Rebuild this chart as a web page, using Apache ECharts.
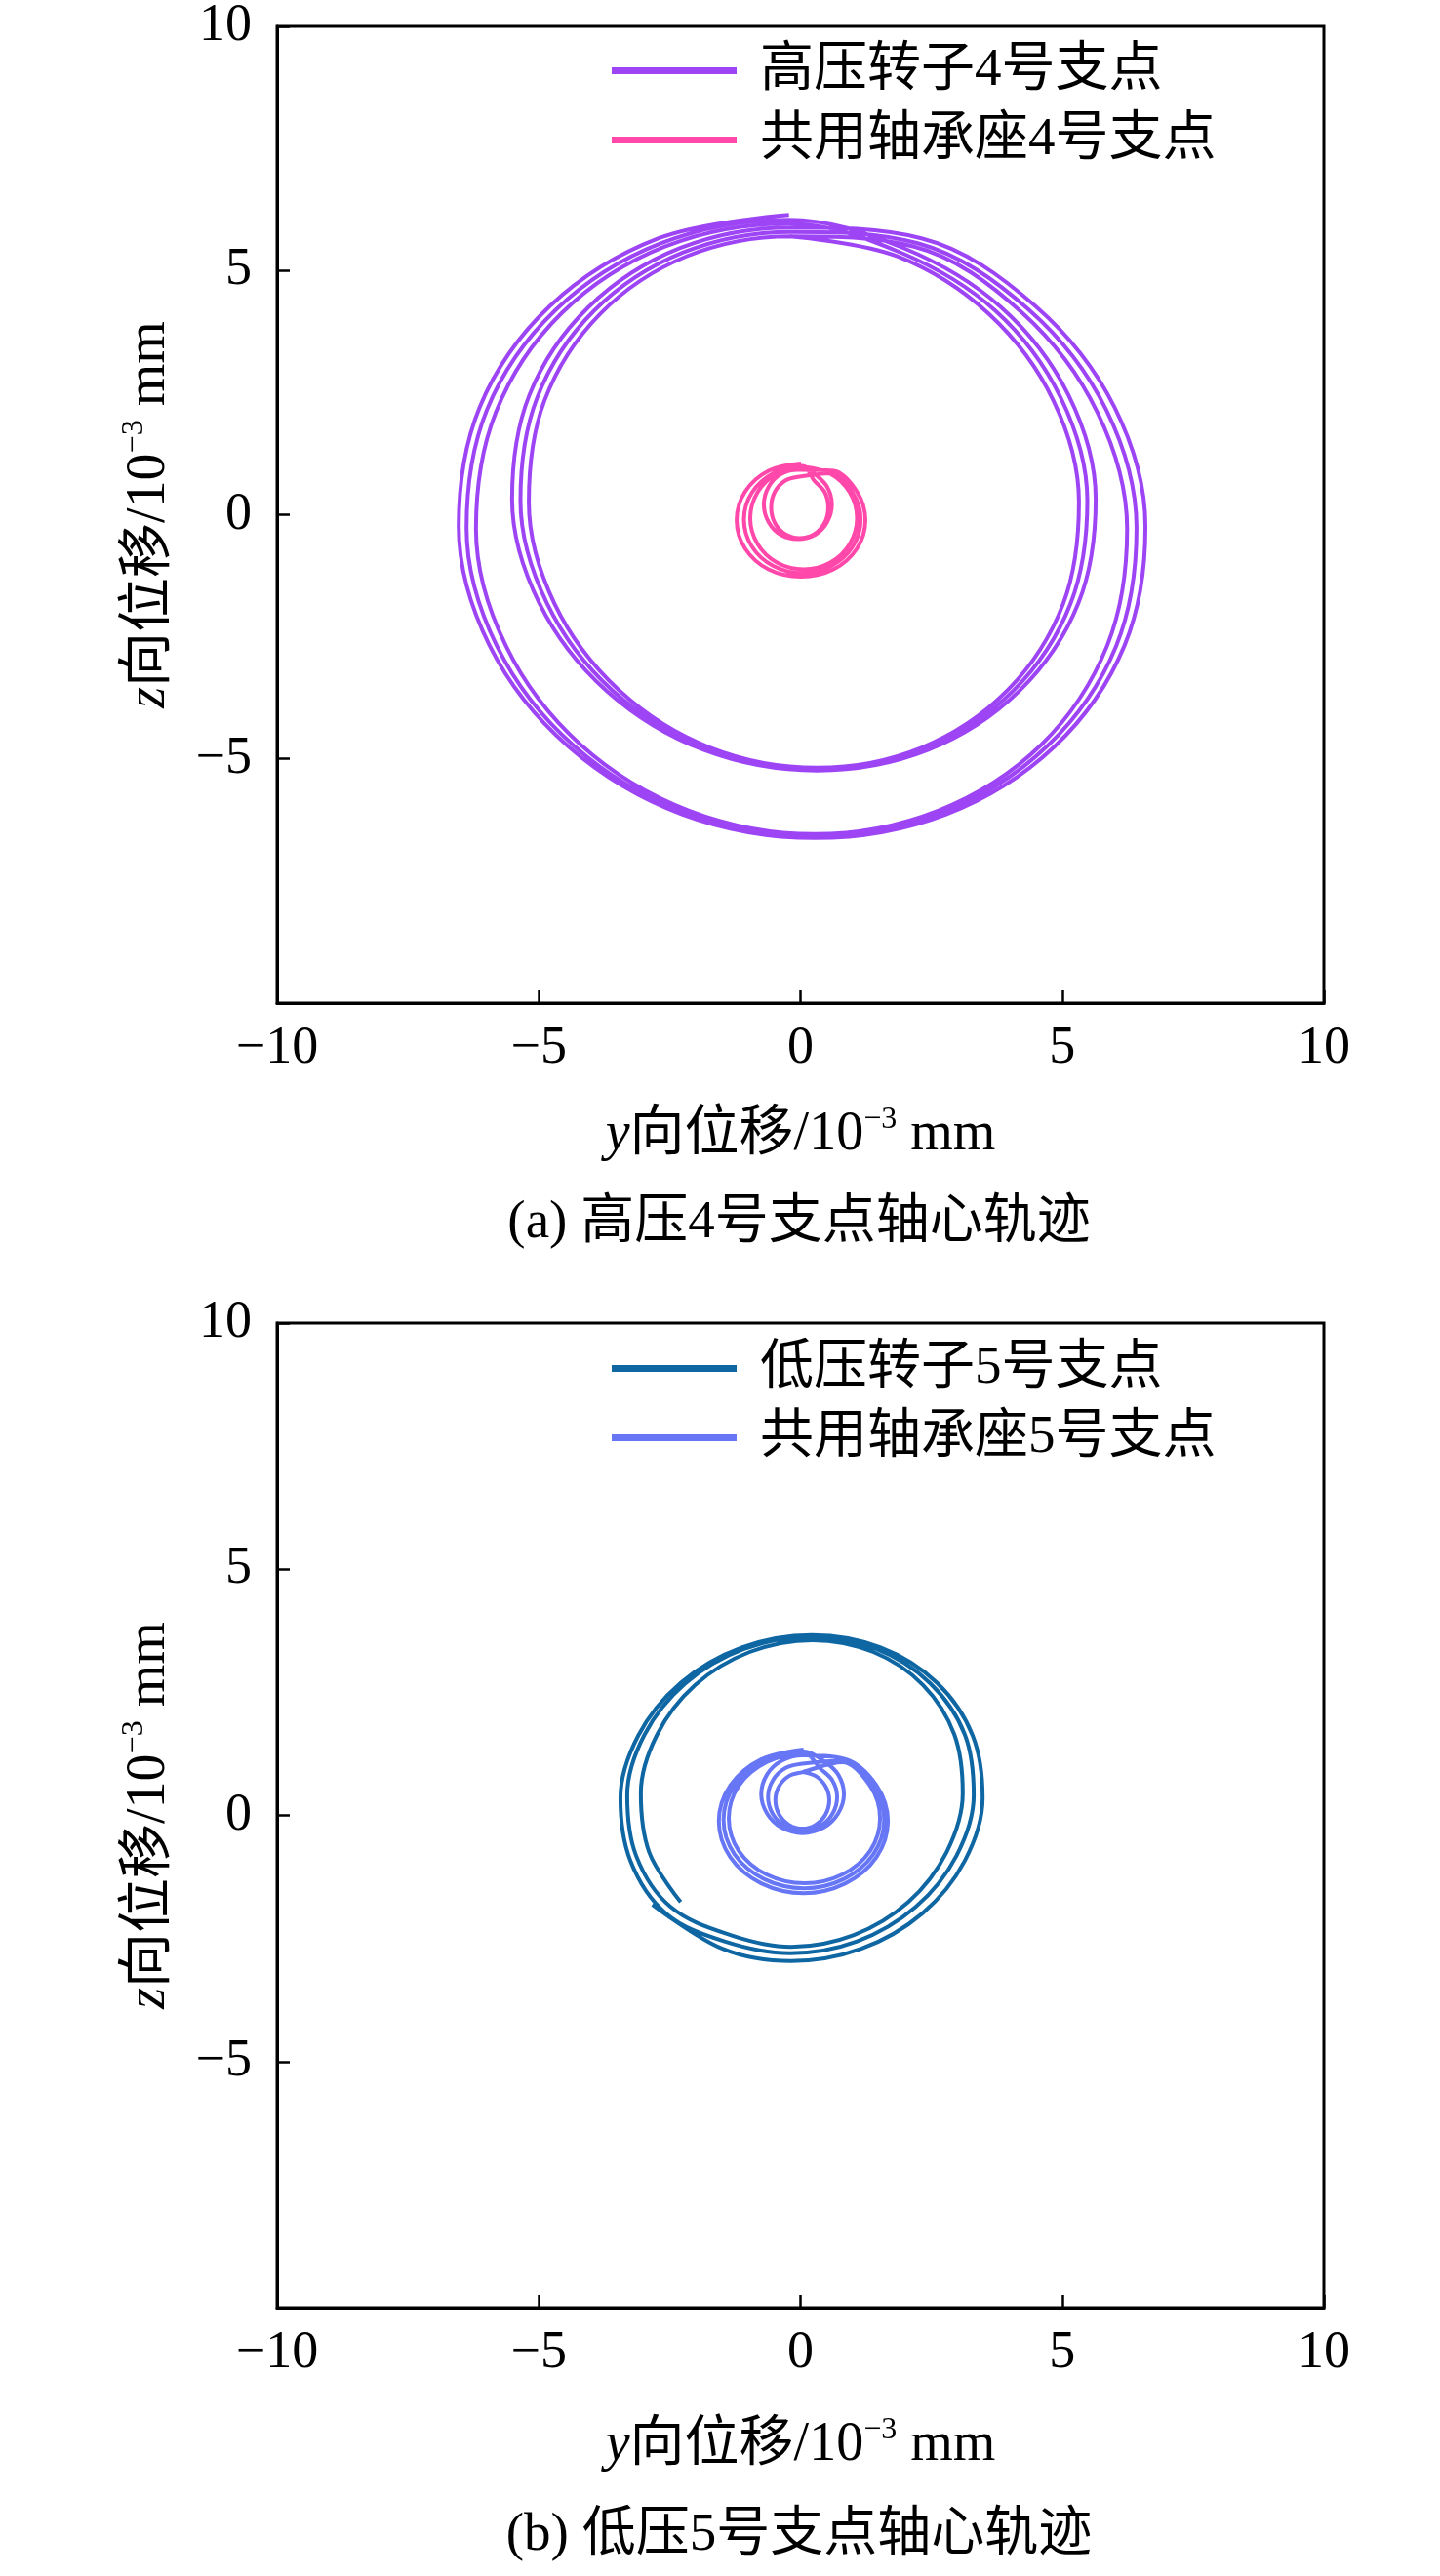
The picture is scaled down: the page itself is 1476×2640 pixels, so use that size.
<!DOCTYPE html>
<html>
<head>
<meta charset="utf-8">
<script src="https://cdn.jsdelivr.net/npm/echarts@6/dist/echarts.min.js"></script>
<style>
  html, body { margin: 0; padding: 0; background: #fff; }
  #main { width: 1476px; height: 2640px; }
</style>
</head>
<body>
<div id="main"></div>
<script>
// axis ticks / labels
const axisTicks = [-10, -5, 0, 5, 10];
const yHiddenLabels = [-10];

// (a) 高压转子4号支点, [y, z] in 10^-3 mm
const hpRotor4 = [
  [-0.22, 6.14], [-2.71, 5.66], [-4.79, 4.27], [-6.13, 2.20], [-6.53, -0.24], [-5.94, -2.68], [-4.43, -4.75], [-2.25, -6.14],
  [0.28, -6.62], [2.77, -6.14], [4.85, -4.75], [6.19, -2.68], [6.59, -0.24], [6.00, 2.20], [4.49, 4.27], [2.31, 5.66],
  [-0.19, 5.88], [-2.30, 5.46], [-4.05, 4.25], [-5.18, 2.45], [-5.51, 0.32], [-4.99, -1.81], [-3.70, -3.61], [-1.84, -4.82],
  [0.32, -5.24], [2.43, -4.82], [4.18, -3.61], [5.31, -1.81], [5.64, 0.32], [5.12, 2.45], [3.83, 4.25], [1.97, 5.46],
  [-0.23, 6.04], [-2.66, 5.56], [-4.68, 4.19], [-5.99, 2.15], [-6.38, -0.27], [-5.80, -2.69], [-4.33, -4.73], [-2.20, -6.10],
  [0.27, -6.58], [2.70, -6.10], [4.72, -4.73], [6.03, -2.69], [6.42, -0.27], [5.84, 2.15], [4.37, 4.19], [2.24, 5.56],
  [-0.19, 5.79], [-2.24, 5.37], [-3.94, 4.18], [-5.03, 2.40], [-5.35, 0.29], [-4.84, -1.82], [-3.59, -3.60], [-1.78, -4.79],
  [0.32, -5.21], [2.37, -4.79], [4.07, -3.60], [5.16, -1.82], [5.48, 0.29], [4.97, 2.40], [3.72, 4.18], [1.91, 5.37],
  [-0.23, 5.96], [-2.59, 5.49], [-4.56, 4.13], [-5.82, 2.10], [-6.20, -0.29], [-5.63, -2.68], [-4.20, -4.71], [-2.13, -6.06],
  [0.27, -6.54], [2.63, -6.06], [4.60, -4.71], [5.86, -2.68], [6.24, -0.29], [5.67, 2.10], [4.24, 4.13], [2.17, 5.49],
  [-0.19, 5.70], [-2.18, 5.29], [-3.83, 4.11], [-4.89, 2.34], [-5.19, 0.26], [-4.70, -1.82], [-3.47, -3.59], [-1.72, -4.77],
  [0.32, -5.18], [2.31, -4.77], [3.96, -3.59], [5.02, -1.82], [5.32, 0.26], [4.83, 2.34], [3.60, 4.11], [1.85, 5.29],
  [-0.19, 5.70]
];

// (a) 共用轴承座4号支点
const casing4 = [
  [0.01, 1.05], [-0.61, 0.90], [-1.06, 0.47], [-1.22, -0.11], [-1.06, -0.69], [-0.61, -1.12],
  [0.01, -1.27], [0.63, -1.12], [1.08, -0.69], [1.24, -0.11], [1.08, 0.47], [0.63, 0.90],
  [-0.05, 0.92], [-0.38, 0.83], [-0.61, 0.57], [-0.70, 0.21], [-0.61, -0.15], [-0.38, -0.41],
  [-0.05, -0.50], [0.28, -0.41], [0.51, -0.15], [0.60, 0.21], [0.51, 0.57], [0.28, 0.83],
  [0.04, 1.00], [-0.52, 0.85], [-0.93, 0.45], [-1.08, -0.10], [-0.93, -0.65], [-0.52, -1.05],
  [0.04, -1.20], [0.59, -1.05], [1.00, -0.65], [1.15, -0.10], [1.00, 0.45], [0.59, 0.85],
  [-0.02, 0.78], [-0.29, 0.70], [-0.49, 0.47], [-0.56, 0.15], [-0.49, -0.17], [-0.29, -0.40],
  [-0.02, -0.48], [0.26, -0.40], [0.46, -0.17], [0.53, 0.15], [0.46, 0.47], [0.26, 0.70],
  [0.06, 0.98], [-0.45, 0.84], [-0.82, 0.46], [-0.96, -0.07], [-0.82, -0.60], [-0.45, -0.98],
  [0.06, -1.12], [0.57, -0.98], [0.94, -0.60], [1.08, -0.07], [0.94, 0.46], [0.57, 0.84],
  [0.06, 0.98]
];

// (b) 低压转子5号支点
const lpRotor5 = [
  [-2.83, -1.81],
  [-1.49, -2.71], [-0.18, -2.96], [1.16, -2.71], [2.33, -1.99], [3.14, -0.92], [3.48, 0.35], [3.29, 1.62], [2.61, 2.69],
  [1.53, 3.41], [0.22, 3.66], [-1.12, 3.41], [-2.29, 2.69], [-3.10, 1.62], [-3.44, 0.35], [-3.25, -0.92], [-2.57, -1.99],
  [-1.45, -2.56], [-0.20, -2.80], [1.08, -2.56], [2.20, -1.86], [2.98, -0.82], [3.31, 0.41], [3.14, 1.64], [2.48, 2.68],
  [1.45, 3.38], [0.20, 3.62], [-1.08, 3.38], [-2.20, 2.68], [-2.98, 1.64], [-3.31, 0.41], [-3.14, -0.82], [-2.48, -1.86],
  [-1.34, -2.43], [-0.18, -2.67], [1.02, -2.43], [2.06, -1.76], [2.79, -0.75], [3.10, 0.45], [2.94, 1.64], [2.34, 2.65],
  [1.39, 3.32], [0.23, 3.56], [-0.97, 3.32], [-2.01, 2.65], [-2.74, 1.64], [-3.05, 0.45], [-2.89, -0.75], [-2.29, -1.76]
];

// (b) 共用轴承座5号支点
const casing5 = [
  [0.06, 1.34], [-0.75, 1.14], [-1.34, 0.61], [-1.56, -0.12], [-1.34, -0.85], [-0.75, -1.38],
  [0.06, -1.58], [0.86, -1.38], [1.45, -0.85], [1.67, -0.12], [1.45, 0.61], [0.86, 1.14],
  [0.04, 1.22], [-0.36, 1.11], [-0.64, 0.83], [-0.75, 0.43], [-0.64, 0.04], [-0.36, -0.25],
  [0.04, -0.36], [0.44, -0.25], [0.72, 0.04], [0.83, 0.43], [0.72, 0.83], [0.44, 1.11],
  [0.07, 1.30], [-0.70, 1.11], [-1.26, 0.61], [-1.47, -0.09], [-1.26, -0.79], [-0.70, -1.29],
  [0.07, -1.48], [0.83, -1.29], [1.39, -0.79], [1.60, -0.09], [1.39, 0.61], [0.83, 1.11],
  [0.04, 1.05], [-0.29, 0.96], [-0.53, 0.71], [-0.62, 0.37], [-0.53, 0.03], [-0.29, -0.22],
  [0.04, -0.31], [0.37, -0.22], [0.61, 0.03], [0.70, 0.37], [0.61, 0.71], [0.37, 0.96],
  [0.08, 1.26], [-0.65, 1.08], [-1.18, 0.60], [-1.37, -0.06], [-1.18, -0.72], [-0.65, -1.20],
  [0.08, -1.38], [0.80, -1.20], [1.33, -0.72], [1.52, -0.06], [1.33, 0.60], [0.80, 1.08],
  [0.04, 0.88], [-0.22, 0.80], [-0.41, 0.59], [-0.48, 0.31], [-0.41, 0.02], [-0.22, -0.19],
  [0.04, -0.27], [0.29, -0.19], [0.48, 0.02], [0.55, 0.31], [0.48, 0.59], [0.29, 0.80],
  [0.04, 0.88]
];

const FONT = '"Liberation Serif", "Times New Roman", "Noto Sans CJK SC", serif';
const minus = v => String(v).replace('-', '\u2212');

const chart = echarts.init(document.getElementById('main'), null, { renderer: 'canvas' });

const nameStyle = {
  fontFamily: FONT,
  fontSize: 56,
  color: '#000',
  lineHeight: 62,
  rich: {
    i: { fontFamily: FONT, fontSize: 56, fontStyle: 'italic', color: '#000', lineHeight: 62 },
    s: { fontFamily: FONT, fontSize: 32, color: '#000', verticalAlign: 'top', lineHeight: 40 }
  }
};

function xAxisOf (gridIndex, gap) {
  return {
    gridIndex: gridIndex,
    type: 'value',
    min: -10,
    max: 10,
    interval: 5,
    name: '{i|y}向位移/10{s|\u22123} mm',
    nameLocation: 'middle',
    nameGap: gap,
    nameTextStyle: nameStyle,
    axisLine: { show: true, onZero: false, lineStyle: { color: '#000', width: 3 } },
    axisTick: { show: true, inside: true, length: 13, lineStyle: { color: '#000', width: 2.5 } },
    axisLabel: {
      margin: 20,
      fontFamily: FONT,
      fontSize: 54,
      color: '#000',
      formatter: v => axisTicks.indexOf(v) >= 0 ? minus(v) : ''
    },
    splitLine: { show: false }
  };
}

function yAxisOf (gridIndex) {
  return {
    gridIndex: gridIndex,
    type: 'value',
    min: -10,
    max: 10,
    interval: 5,
    name: '{i|z}向位移/10{s|\u22123} mm',
    nameLocation: 'middle',
    nameGap: 100,
    nameRotate: 90,
    nameTextStyle: nameStyle,
    axisLine: { show: true, onZero: false, lineStyle: { color: '#000', width: 3 } },
    axisTick: { show: true, inside: true, length: 13, lineStyle: { color: '#000', width: 2.5 } },
    axisLabel: {
      margin: 26,
      fontFamily: FONT,
      fontSize: 54,
      color: '#000',
      formatter: v => yHiddenLabels.indexOf(v) >= 0 ? '' : minus(v)
    },
    splitLine: { show: false }
  };
}

function legendOf (top, names, colors) {
  return {
    orient: 'vertical',
    left: 622,
    top: top,
    itemWidth: 128,
    itemHeight: 7,
    itemGap: 16,
    icon: 'rect',
    data: names.map((n, i) => ({ name: n, itemStyle: { color: colors[i] } })),
    textStyle: {
      fontFamily: FONT,
      fontSize: 55,
      color: '#000',
      lineHeight: 55,
      padding: [0, 0, 0, 19]
    }
  };
}

// smooth ~0.35 keeps the evenly spaced loop points close to round
function lineOf (name, data, color, xi) {
  return {
    name: name,
    type: 'line',
    xAxisIndex: xi,
    yAxisIndex: xi,
    data: data,
    showSymbol: false,
    symbol: 'none',
    smooth: 0.35,
    clip: true,
    animation: false,
    lineStyle: { color: color, width: 4 },
    itemStyle: { color: color }
  };
}

const C_HP = '#9d45f5';
const C_C4 = '#ff48aa';
const C_LP = '#0e66a3';
const C_C5 = '#6676f5';

chart.setOption({
  backgroundColor: '#fff',
  animation: false,
  grid: [
    { left: 284, top: 24, width: 1073, height: 1004, show: true, borderColor: '#000', borderWidth: 3, backgroundColor: 'transparent' },
    { left: 284, top: 1356, width: 1073, height: 1009, show: true, borderColor: '#000', borderWidth: 3, backgroundColor: 'transparent' }
  ],
  xAxis: [xAxisOf(0, 104), xAxisOf(1, 110)],
  yAxis: [yAxisOf(0), yAxisOf(1)],
  legend: [
    legendOf(40, ['高压转子4号支点', '共用轴承座4号支点'], [C_HP, C_C4]),
    legendOf(1370, ['低压转子5号支点', '共用轴承座5号支点'], [C_LP, C_C5])
  ],
  graphic: [
    {
      type: 'text', x: 819, y: 1254,
      style: { text: '(a) 高压4号支点轴心轨迹', font: '55px ' + FONT, fill: '#000', align: 'center', verticalAlign: 'middle' }
    },
    {
      type: 'text', x: 819, y: 2599,
      style: { text: '(b) 低压5号支点轴心轨迹', font: '55px ' + FONT, fill: '#000', align: 'center', verticalAlign: 'middle' }
    }
  ],
  series: [
    lineOf('高压转子4号支点', hpRotor4, C_HP, 0),
    lineOf('共用轴承座4号支点', casing4, C_C4, 0),
    lineOf('低压转子5号支点', lpRotor5, C_LP, 1),
    lineOf('共用轴承座5号支点', casing5, C_C5, 1)
  ]
});
</script>
</body>
</html>
